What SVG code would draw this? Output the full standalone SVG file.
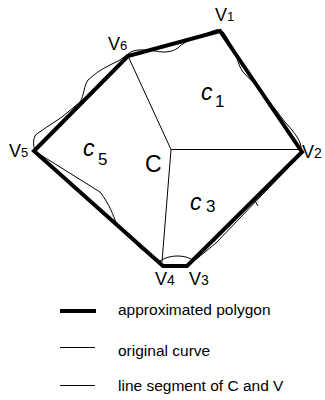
<svg xmlns="http://www.w3.org/2000/svg" width="325" height="400" viewBox="0 0 325 400">
<style>
.poly{fill:none;stroke:#000;stroke-width:4;stroke-linejoin:miter}
.thin{fill:none;stroke:#000;stroke-width:1}
.lbl{font-family:"Liberation Sans",Arial,sans-serif;fill:#000}
.ci{font-family:"Liberation Sans",Arial,sans-serif;fill:#000;font-size:23px;font-style:italic}
.sub{font-family:"Liberation Sans",Arial,sans-serif;fill:#000;font-size:17px}
.leg{font-family:"Liberation Sans",Arial,sans-serif;fill:#000;font-size:15.5px}
</style>
<rect width="325" height="400" fill="#fff"/>
<g id="connectors">
<path class="thin" d="M128,56 L171,149.5 M171,149.5 L300,149.5 M171,149.5 L162,262"/>
<path id="original-curve" class="thin" d="M128,54 C135,48 145,50 155,51 C165,53 172,52 178,48 C183,42 195,38 205,34 L213,31 C217,29 221,29 224,33 L232,46 C238,54 236,62 243,72 C250,80 256,84 262,92 L285,122 C295,133 302,142 301,150 C300,157 296,160 290,166 L262,195 L216,243 L194,261 C190,258 185,256 178,256 C170,256 165,258 160,261 L152,257 L140,248 L117,225 C113,215 110,205 100,192 L36,152 C32,146 33,135 38,133 C42,131 46,127 50,125 L62,117 L80,102 C84,96 84,85 88,80 C95,74 100,70 108,66 L120,60 L128,54"/>
<path class="thin" d="M255,201 L258,206"/>
</g>
<g id="polygon">
<polygon class="poly" points="220,31 302,152 187,266 163,266 34,151 128,56"/>
</g>
<g id="V1"><text class="lbl" x="215" y="21" font-size="18">V<tspan font-size="13">1</tspan></text></g>
<g id="V6"><text class="lbl" x="108" y="50" font-size="18">V<tspan font-size="13">6</tspan></text></g>
<g id="V5"><text class="lbl" x="9" y="157" font-size="18">V<tspan font-size="13">5</tspan></text></g>
<g id="V2"><text class="lbl" x="302" y="158" font-size="18">V<tspan font-size="14">2</tspan></text></g>
<g id="V4"><text class="lbl" x="155" y="285" font-size="18">V<tspan font-size="14">4</tspan></text></g>
<g id="V3"><text class="lbl" x="189" y="285" font-size="18">V<tspan font-size="14">3</tspan></text></g>
<g id="C"><text class="lbl" x="145" y="172" font-size="23">C</text></g>
<g id="c1"><text class="ci" x="201" y="100">c</text><text class="sub" x="215" y="107">1</text></g>
<g id="c5"><text class="ci" x="83" y="156">c</text><text class="sub" x="98" y="165">5</text></g>
<g id="c3"><text class="ci" x="190" y="210">c</text><text class="sub" x="206" y="212">3</text></g>
<g id="legend">
<line x1="60" y1="311" x2="96" y2="311" stroke="#000" stroke-width="4"/>
<text class="leg" x="118" y="315">approximated polygon</text>
<line x1="60" y1="347.5" x2="95" y2="347.5" stroke="#000" stroke-width="1"/>
<text class="leg" x="118" y="356">original curve</text>
<line x1="60" y1="385.5" x2="95" y2="385.5" stroke="#000" stroke-width="1"/>
<text class="leg" x="118" y="391">line segment of C and V</text>
</g>
</svg>
